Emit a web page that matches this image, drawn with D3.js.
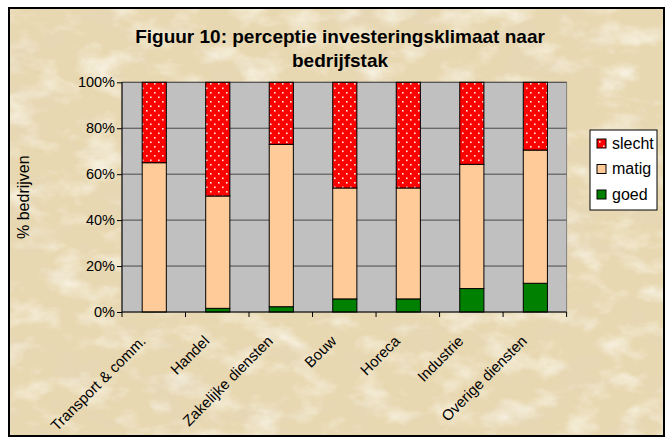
<!DOCTYPE html>
<html>
<head>
<meta charset="utf-8">
<script src="https://cdn.jsdelivr.net/npm/d3@7"></script>
<style>
  body { margin: 0; background: #fff; }
  svg { display: block; }
  text { font-family: Arial, "Liberation Sans", sans-serif; fill: #000; }
</style>
</head>
<body>
<div id="chart"></div>
<script>
// waarden (procenten)
var categories = ["Transport & comm.", "Handel", "Zakelijke diensten", "Bouw", "Horeca", "Industrie", "Overige diensten"]
var goed   = [0, 1.6, 2.3, 5.7, 5.7, 10.2, 12.5]
var matig  = [65, 48.9, 70.7, 48.3, 48.3, 54.1, 58]
var slecht = [35, 49.5, 27, 46, 46, 35.7, 29.5]
var yTicks = [0, 20, 40, 60, 80, 100]
var seriesNames = ["goed", "matig", "slecht"]

var width = 669, height = 438
var plot = { left: 122, right: 566.6, top: 82.3, bottom: 312 }

var rows = categories.map(function (c, i) {
    return { cat: c, goed: goed[i], matig: matig[i], slecht: slecht[i] }
})

var svg = d3.select("#chart").append("svg")
    .attr("width", width)
    .attr("height", height)

var defs = svg.append("defs")

// perkament achtergrond: donkere en lichte vlekken
function noiseFilter(id, seed, freq, color) {
    var f = defs.append("filter").attr("id", id)
        .attr("x", 0).attr("y", 0).attr("width", "100%").attr("height", "100%")
    f.append("feTurbulence")
        .attr("type", "fractalNoise")
        .attr("baseFrequency", freq)
        .attr("numOctaves", 4)
        .attr("seed", seed)
    f.append("feColorMatrix")
        .attr("type", "matrix")
        .attr("values", "0 0 0 0 " + color[0] + "  0 0 0 0 " + color[1] + "  0 0 0 0 " + color[2] + "  2.0 0 0 0 -0.95")
}
noiseFilter("dark", 7, "0.02 0.035", [0.78, 0.67, 0.48])
noiseFilter("light", 21, "0.025 0.04", [0.97, 0.94, 0.85])

var dots = defs.append("pattern").attr("id", "dots")
    .attr("patternUnits", "userSpaceOnUse")
    .attr("width", 8).attr("height", 9)
dots.append("rect").attr("width", 8).attr("height", 9).attr("fill", "#ff0000")
dots.append("rect").attr("x", 2).attr("y", 2).attr("width", 1.6).attr("height", 1.6).attr("fill", "#ffe8e8")
dots.append("rect").attr("x", 6).attr("y", 6.5).attr("width", 1.6).attr("height", 1.6).attr("fill", "#ffe8e8")

var fills = { goed: "#008000", matig: "#ffcc99", slecht: "url(#dots)" }

svg.append("rect")
    .attr("x", 9).attr("y", 8).attr("width", 655).attr("height", 428)
    .attr("fill", "#e8d8b1")
svg.append("rect")
    .attr("x", 9).attr("y", 8).attr("width", 655).attr("height", 428)
    .attr("filter", "url(#dark)")
svg.append("rect")
    .attr("x", 9).attr("y", 8).attr("width", 655).attr("height", 428)
    .attr("filter", "url(#light)")
svg.append("rect")
    .attr("x", 9).attr("y", 8).attr("width", 655).attr("height", 428)
    .attr("fill", "none").attr("stroke", "#000").attr("stroke-width", 2)

// titel
svg.append("text").attr("x", 340).attr("y", 42.5)
    .attr("text-anchor", "middle")
    .style("font-size", "19px").style("font-weight", "bold")
    .text("Figuur 10: perceptie investeringsklimaat naar")
svg.append("text").attr("x", 340).attr("y", 66.5)
    .attr("text-anchor", "middle")
    .style("font-size", "19px").style("font-weight", "bold")
    .text("bedrijfstak")

var x = d3.scaleBand()
    .domain(categories)
    .range([plot.left, plot.right])
    .padding(0)

var y = d3.scaleLinear()
    .domain([0, 100])
    .range([plot.bottom, plot.top])

// plotgebied
svg.append("rect")
    .attr("x", plot.left).attr("y", plot.top)
    .attr("width", plot.right - plot.left).attr("height", plot.bottom - plot.top)
    .attr("fill", "#c0c0c0").attr("stroke", "#808080")

svg.append("g")
    .selectAll("line")
    .data(yTicks.slice(1))
    .enter()
    .append("line")
    .attr("x1", plot.left).attr("x2", plot.right)
    .attr("y1", function (d) { return y(d) }).attr("y2", function (d) { return y(d) })
    .attr("stroke", "#4a4a4a").attr("stroke-width", 1)

var stack = d3.stack().keys(seriesNames)
var stacked = stack(rows)
var barW = x.bandwidth() * 0.38

svg.append("g")
    .selectAll("g")
    .data(stacked)
    .enter()
    .append("g")
    .attr("fill", function (d) { return fills[d.key] })
    .selectAll("rect")
    .data(function (d) { return d })
    .enter()
    .append("rect")
    .attr("x", function (d) { return x(d.data.cat) + x.bandwidth() / 2 - barW / 2 + 0.5 })
    .attr("y", function (d) { return y(d[1]) })
    .attr("width", barW)
    .attr("height", function (d) { return y(d[0]) - y(d[1]) })
    .attr("stroke", "#000").attr("stroke-width", 1)

// assen
var axisY = d3.axisLeft(y)
    .tickValues(yTicks)
    .tickSize(5)
    .tickFormat(function (d) { return d + "%" })

var gy = svg.append("g")
    .attr("transform", "translate(" + plot.left + ",0)")
    .call(axisY)
gy.select(".domain").attr("stroke", "#000").attr("d", "M0," + plot.top + "V" + plot.bottom)
gy.selectAll(".tick line").attr("stroke", "#000")
gy.selectAll(".tick text")
    .attr("x", -7)
    .style("font-size", "14.5px")
    .style("font-family", "Arial, 'Liberation Sans', sans-serif")

var gx = svg.append("g")
    .attr("transform", "translate(0," + plot.bottom + ")")
gx.append("line")
    .attr("x1", plot.left).attr("x2", plot.right)
    .attr("stroke", "#000")
gx.selectAll(".xt")
    .data(categories.concat([null]))
    .enter()
    .append("line")
    .attr("x1", function (d, i) { return d ? x(d) : plot.right })
    .attr("x2", function (d, i) { return d ? x(d) : plot.right })
    .attr("y1", 0).attr("y2", 5)
    .attr("stroke", "#000")

svg.append("g")
    .selectAll("text")
    .data(categories)
    .enter()
    .append("text")
    .attr("text-anchor", "end")
    .style("font-size", "15px")
    .attr("transform", function (d) {
        return "translate(" + (x(d) + x.bandwidth() / 2 - 7) + ",342) rotate(-45)"
    })
    .text(function (d) { return d })

svg.append("text")
    .attr("transform", "translate(29," + ((plot.top + plot.bottom) / 2) + ") rotate(-90)")
    .attr("text-anchor", "middle")
    .style("font-size", "16px")
    .text("% bedrijven")

// legenda
var legend = svg.append("g")
legend.append("rect")
    .attr("x", 590).attr("y", 130).attr("width", 67).attr("height", 80)
    .attr("fill", "#fff").attr("stroke", "#000")

var legendItems = ["slecht", "matig", "goed"]
var li = legend.selectAll(".li")
    .data(legendItems)
    .enter()
    .append("g")
    .attr("transform", function (d, i) { return "translate(597," + (139 + i * 25.5) + ")" })
li.append("rect")
    .attr("width", 9).attr("height", 9)
    .attr("fill", function (d) { return fills[d] })
    .attr("stroke", "#000")
li.append("text")
    .attr("x", 15).attr("y", 9.5)
    .style("font-size", "16px")
    .text(function (d) { return d })
</script>
</body>
</html>
